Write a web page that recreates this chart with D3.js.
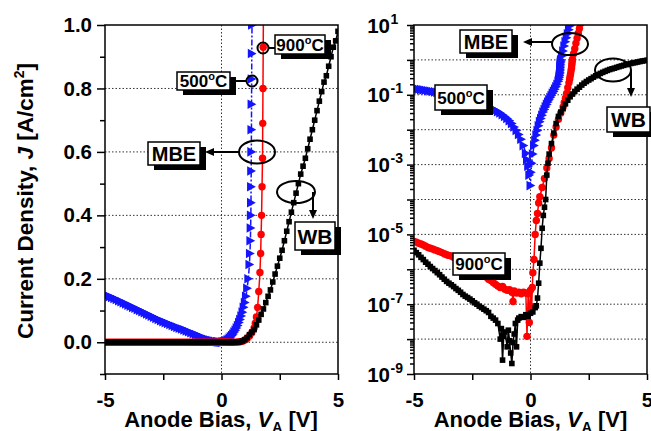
<!DOCTYPE html>
<html>
<head>
<meta charset="utf-8">
<script src="https://cdn.jsdelivr.net/npm/d3@7"></script>
<style>
  body { margin: 0; background: #fff; }
  svg text { font-family: "Liberation Sans", Arial, sans-serif; font-weight: bold; fill: #000; }
</style>
</head>
<body>
<div id="chart"></div>
<script>
// 500 C anneal (blue triangles) - |J| vs anode bias
var blueV = [-5.0,-4.9,-4.8,-4.7,-4.6,-4.5,-4.4,-4.3,-4.2,-4.1,-4.0,-3.9,-3.8,-3.7,-3.6,-3.5,-3.4,-3.3,-3.2,-3.1,
  -3.0,-2.9,-2.8,-2.7,-2.6,-2.5,-2.4,-2.3,-2.2,-2.1,-2.0,-1.9,-1.8,-1.7,-1.6,-1.5,-1.4,-1.3,-1.2,-1.1,
  -1.0,-0.9,-0.8,-0.7,-0.6,-0.5,-0.4,-0.3,-0.2,-0.15,-0.1,-0.05,0.0,
  0.02,0.05,0.1,0.15,0.2,0.25,0.3,0.35,0.4,0.45,0.5,0.55,0.6,0.65,0.7,0.75,0.8,0.85,0.9,0.95,1.0,1.05,1.1,1.15,1.2,
  1.22,1.24,1.25,1.26,1.265,1.27,1.275,1.28,1.285,1.29,1.295,1.3,1.31,1.35,1.4,1.45,1.5,1.55,1.6,1.65,1.7,1.75];
var blueJ = [0.150,0.147,0.144,0.141,0.138,0.135,0.131,0.128,0.124,0.121,0.117,0.114,0.110,0.107,0.103,0.100,0.096,0.093,0.089,0.086,
  0.082,0.079,0.075,0.072,0.068,0.065,0.062,0.059,0.056,0.053,0.050,0.047,0.044,0.042,0.039,0.036,0.033,0.030,0.027,0.024,
  0.021,0.018,0.015,0.012,0.0095,0.0073,0.0053,0.0035,0.0021,0.0014,0.0009,0.0005,0.00025,
  0.0006,0.0011,0.002,0.0035,0.005,0.007,0.0095,0.013,0.017,0.021,0.026,0.032,0.038,0.045,0.053,0.062,0.072,0.083,0.095,0.11,0.125,0.145,0.17,0.2,0.245,
  0.28,0.32,0.36,0.4,0.44,0.49,0.54,0.6,0.67,0.75,0.83,0.91,1.0,1.3,1.8,2.5,3.3,4.3,5.6,7.3,9.5,12];

// 900 C anneal (red circles)
var redV = [-5.0,-4.9,-4.8,-4.7,-4.6,-4.5,-4.4,-4.3,-4.2,-4.1,-4.0,-3.9,-3.8,-3.7,-3.6,-3.5,-3.4,-3.3,-3.2,-3.1,
  -3.0,-2.9,-2.8,-2.7,-2.6,-2.5,-2.4,-2.3,-2.2,-2.1,-2.0,-1.9,-1.8,-1.7,-1.6,-1.5,-1.4,-1.3,-1.2,-1.1,
  -1.0,-0.9,-0.8,-0.75,-0.7,-0.6,-0.5,-0.4,-0.3,-0.2,-0.15,-0.1,-0.05,0.0,0.05,0.08,0.1,0.15,0.2,0.25,0.3,0.35,0.4,
  0.5,0.6,0.7,0.8,0.9,1.0,1.1,1.2,1.3,1.4,1.45,1.5,1.55,1.6,1.65,1.68,1.7,1.72,1.74,1.76,1.77,1.78,1.79,1.8,
  1.85,1.9,1.95,2.0,2.05,2.1,2.15];
var redJ = [6.3e-6,6.0e-6,5.6e-6,5.3e-6,5.0e-6,4.6e-6,4.2e-6,4.0e-6,3.8e-6,3.6e-6,3.4e-6,3.2e-6,3.0e-6,2.8e-6,2.6e-6,2.5e-6,2.4e-6,2.2e-6,2.1e-6,2.0e-6,
  1.8e-6,1.7e-6,1.6e-6,1.4e-6,1.3e-6,1.15e-6,1.05e-6,9.5e-7,8.0e-7,7.2e-7,6.6e-7,6.0e-7,5.2e-7,4.8e-7,4.2e-7,3.7e-7,3.3e-7,3.0e-7,3.2e-7,2.7e-7,
  2.5e-7,2.6e-7,2.2e-7,1.2e-7,2.4e-7,2.1e-7,2.2e-7,2.0e-7,2.2e-7,2.1e-7,1.2e-8,2.0e-7,3.0e-8,2.5e-7,8.5e-8,3.0e-7,8.0e-7,1.9e-6,1.0e-5,2.5e-5,4.0e-5,8.0e-5,1.2e-4,
  2.2e-4,4.0e-4,8.0e-4,1.5e-3,3.0e-3,7.0e-3,0.012,0.02,0.03,0.045,0.06,0.08,0.11,0.16,0.22,0.28,0.34,0.4,0.49,0.58,0.69,0.8,0.93,1.05,
  1.5,2.1,3.0,4.2,5.8,8.0,11];

// wafer bonded, WB (black squares)
var blackV = [-5.0,-4.9,-4.8,-4.7,-4.6,-4.5,-4.4,-4.3,-4.2,-4.1,-4.0,-3.9,-3.8,-3.7,-3.6,-3.5,-3.4,-3.3,-3.2,-3.1,
  -3.0,-2.9,-2.8,-2.7,-2.6,-2.5,-2.4,-2.3,-2.2,-2.1,-2.0,-1.9,-1.8,-1.7,-1.6,-1.5,-1.4,-1.3,-1.25,-1.2,-1.15,-1.1,
  -1.0,-0.95,-0.9,-0.85,-0.8,-0.75,-0.7,-0.65,-0.6,-0.55,-0.5,-0.4,-0.3,-0.2,-0.1,0.0,0.1,0.2,0.25,0.3,0.35,0.4,0.45,
  0.5,0.55,0.6,0.65,0.7,0.75,0.8,0.9,1.0,1.1,1.2,1.3,1.4,1.5,1.6,1.7,1.8,1.9,2.0,2.1,2.2,2.3,2.4,2.5,2.6,2.7,2.8,2.9,
  3.0,3.1,3.2,3.3,3.4,3.5,3.6,3.7,3.8,3.9,4.0,4.1,4.2,4.3,4.4,4.5,4.6,4.7,4.8,4.9,5.0];
var blackJ = [3.5e-6,3.0e-6,2.6e-6,2.2e-6,1.9e-6,1.6e-6,1.4e-6,1.2e-6,1.05e-6,9.2e-7,8.0e-7,7.0e-7,6.0e-7,5.2e-7,4.5e-7,4.0e-7,3.6e-7,3.2e-7,2.8e-7,2.5e-7,
  2.2e-7,1.9e-7,1.7e-7,1.55e-7,1.4e-7,1.25e-7,1.1e-7,1.0e-7,8.8e-8,8.0e-8,7.2e-8,6.5e-8,5.8e-8,4.5e-8,4.0e-8,3.5e-8,2.8e-8,1.0e-8,2.0e-8,2.5e-9,1.2e-8,1.6e-8,
  6.0e-9,1.8e-8,9.0e-9,4.0e-9,2.0e-9,8.0e-9,1.4e-8,2.8e-8,6.0e-9,3.5e-8,4.0e-8,4.4e-8,4.2e-8,5.0e-8,4.5e-8,5.5e-8,6.0e-8,8.0e-8,9.0e-8,1.5e-7,4.0e-7,1.5e-6,4.0e-6,
  1.5e-5,3.5e-5,6.0e-5,1.0e-4,5.0e-4,1.1e-3,2.0e-3,4.0e-3,0.008,0.015,0.024,0.032,0.04,0.055,0.07,0.088,0.105,0.125,0.145,0.165,0.19,0.215,0.24,0.265,0.29,0.32,0.35,0.38,
  0.41,0.44,0.47,0.5,0.53,0.555,0.58,0.61,0.64,0.67,0.70,0.73,0.76,0.79,0.82,0.84,0.87,0.9,0.93,0.95,0.98];

// tick labels
var xTickValues = [-5, -2.5, 0, 2.5, 5];
var xTickLabels = ["-5", "", "0", "", "5"];
var linTickValues = [0.0, 0.2, 0.4, 0.6, 0.8, 1.0];
var linMinorTicks = [-0.1, 0.1, 0.3, 0.5, 0.7, 0.9];
var logTickExps = [1, -1, -3, -5, -7, -9];

var width = 651, height = 431;
var plotTop = 25, plotBottom = 374;
var font = "'Liberation Sans', Arial, sans-serif";
var tickFont = 20.5;

var svg = d3.select("#chart").append("svg")
    .attr("width", width)
    .attr("height", height);

var series = [
  {V: blueV, J: blueJ, color: "#1414ff", marker: "tri", dash: "6,2,2,2"},
  {V: redV, J: redJ, color: "#ff0000", marker: "circle", dash: null},
  {V: blackV, J: blackJ, color: "#000000", marker: "square", dash: null}
];

var drawCurves = function(g, x, y, clipId, isLog) {
  var plot = g.append("g").attr("clip-path", "url(#" + clipId + ")");
  series.forEach(function(s) {
    var pts = s.V.map(function(v, i) { return [v, s.J[i]]; });
    if (isLog) pts = pts.filter(function(d) { return d[1] > 0; });
    var line = d3.line()
        .x(function(d) { return x(d[0]); })
        .y(function(d) { return y(d[1]); });
    plot.append("path")
        .attr("d", line(pts))
        .attr("fill", "none")
        .attr("stroke", s.color)
        .attr("stroke-width", 1.5)
        .attr("stroke-dasharray", s.dash);
    var m = plot.selectAll(null).data(pts).enter();
    if (s.marker == "tri") {
      m.append("path")
        .attr("d", "M-4,-4.8L4.8,0L-4,4.8Z")
        .attr("transform", function(d) { return "translate(" + x(d[0]) + "," + y(d[1]) + ")"; })
        .attr("fill", s.color);
    } else if (s.marker == "circle") {
      m.append("circle")
        .attr("cx", function(d) { return x(d[0]); })
        .attr("cy", function(d) { return y(d[1]); })
        .attr("r", 3.7)
        .attr("fill", s.color);
    } else {
      m.append("rect")
        .attr("x", function(d) { return x(d[0]) - 2.8; })
        .attr("y", function(d) { return y(d[1]) - 2.8; })
        .attr("width", 5.6)
        .attr("height", 5.6)
        .attr("fill", s.color);
    }
  });
};

var styleAxis = function(ax) {
  ax.select(".domain").remove();
  ax.selectAll("line").attr("stroke", "#000").attr("stroke-width", 1.5);
  ax.selectAll("text").attr("font-size", tickFont).attr("font-family", font).attr("font-weight", "bold");
};

var gridStyle = function(sel) {
  sel.attr("stroke", "#333").attr("stroke-width", 1).attr("stroke-dasharray", "1.5,2");
};

// label box with drop shadow
var addBox = function(g, bx, by, bw, bh, label, fs, degree) {
  g.append("rect").attr("x", bx + 6).attr("y", by + 5).attr("width", bw).attr("height", bh).attr("fill", "#000");
  g.append("rect").attr("x", bx).attr("y", by).attr("width", bw).attr("height", bh)
      .attr("fill", "#fff").attr("stroke", "#000").attr("stroke-width", 1.5);
  var t = g.append("text")
      .attr("x", bx + bw / 2)
      .attr("y", by + bh / 2 + fs * 0.36)
      .attr("text-anchor", "middle")
      .attr("font-size", fs);
  if (degree) {
    t.append("tspan").text(label);
    t.append("tspan").attr("font-size", 11).attr("dy", -7).text("o");
    t.append("tspan").attr("dy", 7).text("C");
  } else {
    t.text(label);
  }
};

var arrowHead = function(g, tx, ty, dir) {
  // dir: "left" or "down"
  var p = dir == "left"
    ? [[tx, ty], [tx + 9, ty - 4], [tx + 9, ty + 4]]
    : [[tx, ty], [tx - 4, ty - 9], [tx + 4, ty - 9]];
  g.append("path").attr("d", "M" + p.join("L") + "Z").attr("fill", "#000");
};

var ring = function(g, cx, cy, rx, ry) {
  g.append("ellipse").attr("cx", cx).attr("cy", cy).attr("rx", rx).attr("ry", ry)
      .attr("fill", "none").attr("stroke", "#000").attr("stroke-width", 2);
};

var seg = function(g, x1, y1, x2, y2) {
  g.append("line").attr("x1", x1).attr("y1", y1).attr("x2", x2).attr("y2", y2)
      .attr("stroke", "#000").attr("stroke-width", 2);
};

var xTitle = function(cx) {
  var t = svg.append("text").attr("x", cx).attr("y", 427).attr("text-anchor", "middle").attr("font-size", 22);
  t.append("tspan").text("Anode Bias, ");
  t.append("tspan").attr("font-style", "italic").text("V");
  t.append("tspan").attr("font-size", 14).attr("dy", 5).text("A");
  t.append("tspan").attr("dy", -5).text(" [V]");
};

var defs = svg.append("defs");

// ---------- left panel: linear ----------
var xL = d3.scaleLinear().domain([-5, 5]).range([105, 338]);
var yL = d3.scaleLinear().domain([-0.1, 1.0]).range([plotBottom, plotTop]);

defs.append("clipPath").attr("id", "clipL").append("rect")
    .attr("x", 105).attr("y", plotTop).attr("width", 233).attr("height", plotBottom - plotTop);

var gL = svg.append("g");
gL.append("line").attr("x1", xL(0)).attr("x2", xL(0)).attr("y1", plotTop).attr("y2", plotBottom).call(gridStyle);
gL.selectAll(null).data(linTickValues.slice(0, 5)).enter().append("line")
    .attr("x1", 105).attr("x2", 338)
    .attr("y1", function(d) { return yL(d); }).attr("y2", function(d) { return yL(d); })
    .call(gridStyle);

drawCurves(gL, xL, yL, "clipL", false);

gL.append("rect").attr("x", 105).attr("y", plotTop).attr("width", 233).attr("height", plotBottom - plotTop)
    .attr("fill", "none").attr("stroke", "#000").attr("stroke-width", 1.5);

gL.append("g").attr("transform", "translate(105,0)")
    .call(d3.axisLeft(yL).tickValues(linTickValues).tickSize(8).tickPadding(5).tickFormat(d3.format(".1f")))
    .call(styleAxis);
gL.append("g").attr("transform", "translate(105,0)")
    .call(d3.axisLeft(yL).tickValues(linMinorTicks).tickSize(5).tickFormat(""))
    .call(styleAxis);
gL.append("g").attr("transform", "translate(0," + plotBottom + ")")
    .call(d3.axisBottom(xL).tickValues(xTickValues).tickSize(6).tickPadding(12)
      .tickFormat(function(d, i) { return xTickLabels[i]; }))
    .call(styleAxis);

var yt = svg.append("text").attr("transform", "translate(33,201) rotate(-90)")
    .attr("text-anchor", "middle").attr("font-size", 22.5);
yt.append("tspan").text("Current Density, ");
yt.append("tspan").attr("font-style", "italic").text("J");
yt.append("tspan").text(" [A/cm");
yt.append("tspan").attr("font-size", 14).attr("dy", -9).text("2");
yt.append("tspan").attr("dy", 9).text("]");
xTitle(221);

// annotations left
ring(gL, 263, 48, 5.5, 5.5);
seg(gL, 268.5, 48, 275, 48);
addBox(gL, 275, 35, 50, 19, "900", 17, true);
ring(gL, 252, 81, 5.5, 5.5);
seg(gL, 230, 81, 246.5, 81);
addBox(gL, 177, 72, 53, 18, "500", 17, true);
ring(gL, 257, 152, 18, 11.5);
seg(gL, 239, 152, 212, 152);
arrowHead(gL, 205, 152, "left");
addBox(gL, 148, 142, 52, 23, "MBE", 20, false);
ring(gL, 296, 192, 19, 11);
seg(gL, 313, 192, 313, 212);
arrowHead(gL, 313, 219, "down");
addBox(gL, 295, 222, 40, 28, "WB", 21, false);

// ---------- right panel: log ----------
var xR = d3.scaleLinear().domain([-5, 5]).range([414, 647]);
var yR = d3.scaleLog().domain([1e-9, 10]).range([plotBottom, plotTop]);

defs.append("clipPath").attr("id", "clipR").append("rect")
    .attr("x", 414).attr("y", plotTop).attr("width", 233).attr("height", plotBottom - plotTop);

var gR = svg.append("g");
var decades = d3.range(-8, 1).map(function(e) { return Math.pow(10, e); });
gR.append("line").attr("x1", xR(0)).attr("x2", xR(0)).attr("y1", plotTop).attr("y2", plotBottom).call(gridStyle);
gR.selectAll(null).data(decades).enter().append("line")
    .attr("x1", 414).attr("x2", 647)
    .attr("y1", function(d) { return yR(d); }).attr("y2", function(d) { return yR(d); })
    .call(gridStyle);

drawCurves(gR, xR, yR, "clipR", true);

gR.append("rect").attr("x", 414).attr("y", plotTop).attr("width", 233).attr("height", plotBottom - plotTop)
    .attr("fill", "none").attr("stroke", "#000").attr("stroke-width", 1.5);

var majorLog = d3.range(-9, 2).map(function(e) { return Math.pow(10, e); });
var minorLog = [];
d3.range(-9, 1).forEach(function(e) {
  [2, 3, 4, 5, 6, 7, 8, 9].forEach(function(k) { minorLog.push(k * Math.pow(10, e)); });
});
gR.append("g").attr("transform", "translate(414,0)")
    .call(d3.axisLeft(yR).tickValues(majorLog).tickSize(7).tickFormat(""))
    .call(styleAxis);
gR.append("g").attr("transform", "translate(414,0)")
    .call(d3.axisLeft(yR).tickValues(minorLog).tickSize(4).tickFormat(""))
    .call(styleAxis);
gR.append("g").attr("transform", "translate(0," + plotBottom + ")")
    .call(d3.axisBottom(xR).tickValues(xTickValues).tickSize(6).tickPadding(12)
      .tickFormat(function(d, i) { return xTickLabels[i]; }))
    .call(styleAxis);

logTickExps.forEach(function(e) {
  var yy = yR(Math.pow(10, e));
  gR.append("text").attr("x", 390).attr("y", yy + 7.5).attr("text-anchor", "end").attr("font-size", tickFont).text("10");
  gR.append("text").attr("x", 390.5).attr("y", yy - 1.5).attr("text-anchor", "start").attr("font-size", 14).text(String(e));
});
xTitle(530.5);

// annotations right
ring(gR, 570, 44, 18, 11);
seg(gR, 552, 42, 530, 42);
arrowHead(gR, 523, 42, "left");
addBox(gR, 460, 30, 52, 23, "MBE", 20, false);
addBox(gR, 435, 85, 52, 25, "500", 17, true);
ring(gR, 613, 70, 18, 11.5);
seg(gR, 631, 70, 631, 90);
arrowHead(gR, 631, 97, "down");
addBox(gR, 607, 107, 43, 25, "WB", 21, false);
addBox(gR, 453, 253, 52, 22, "900", 17, true);
</script>
</body>
</html>
